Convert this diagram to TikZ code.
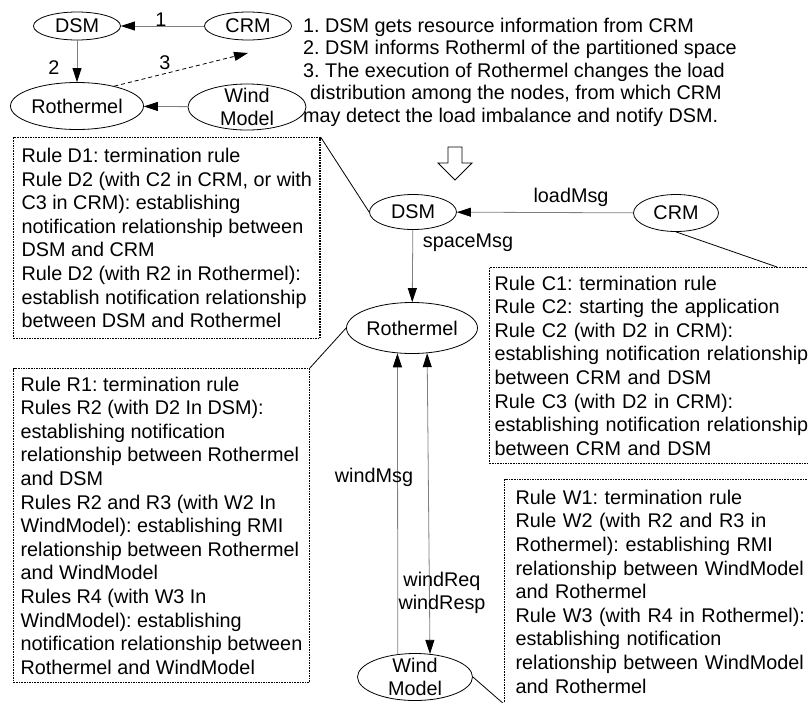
\documentclass[tikz,border=0pt]{standalone}
\usepackage{fontspec}
\setmainfont{Liberation Sans}
\usepackage{tikz}
\usetikzlibrary{shapes.geometric,arrows.meta}
\frenchspacing

\begin{document}
\begin{tikzpicture}[x=1pt,y=-1pt,font=\fontsize{19.8}{23.6}\selectfont]
        \useasboundingbox (0,0) rectangle (808,702);
        \tikzset{ModuleStyle/.style={draw, ellipse, inner sep=0pt, line width=0.8pt},
        WindStyle/.style={ModuleStyle, align=center, inner ysep=-3pt},
        MsgStyle/.style={draw=gray, line width=0.8pt, -{Triangle[length=14pt,width=9pt,color=black]}},
        BothStyle/.style={MsgStyle, {Triangle[length=14pt,width=9pt,color=black]}-{Triangle[length=14pt,width=9pt,color=black]}},
        RuleStyle/.style={draw, dash pattern=on 1.6pt off 1pt, line width=1.1pt, anchor=north west, align=left, inner ysep=0pt}}
        \node[ModuleStyle, minimum width=87, minimum height=28] (DSM1) at (77,26) {DSM};
        \node[ModuleStyle, minimum width=87, minimum height=28] (CRM1) at (248,26) {CRM};
        \node[ModuleStyle, minimum width=133, minimum height=47] (Roth1) at (77,106) {Rothermel};
        \node[WindStyle, minimum width=118, minimum height=46] (Wind1) at (247,107) {Wind\\Model};
        \coordinate (tip3) at (248,53);
        \draw[MsgStyle] (CRM1) -- (DSM1);
        \draw[MsgStyle] (DSM1) -- (Roth1);
        \draw[MsgStyle] (Wind1) -- (Roth1);
        \draw[MsgStyle, draw=black, dash pattern=on 4pt off 3pt] (Roth1.28) -- (tip3);
        \node (num1) at (161,20) {1};
        \node (num2) at (54,68) {2};
        \node (num3) at (165,63) {3};
        \node[anchor=north west, align=left, inner sep=0pt, font=\fontsize{19.8}{22.6}\selectfont] (steps) at (303,17.6)
        {1. DSM gets resource information from CRM\\
        2. DSM informs Rotherml of the partitioned space\\
        3. The execution of Rothermel changes the load\\
        \hspace*{7pt}distribution among the nodes, from which CRM\\
        may detect the load imbalance and notify DSM.};
        \draw[fill=white, line width=0.8pt] (448,147) -- (462,147) -- (462,163) -- (472,163)
        -- (455,180) -- (438,163) -- (448,163) -- cycle;
        \node[ModuleStyle, minimum width=87, minimum height=35] (DSM) at (413,212) {DSM};
        \node[ModuleStyle, minimum width=85, minimum height=37] (CRM) at (676,213) {CRM};
        \node[ModuleStyle, minimum width=131, minimum height=51] (Roth) at (412,328) {Rothermel};
        \node[WindStyle, minimum width=115, minimum height=47] (Wind) at (415,677) {Wind\\Model};
        \draw[MsgStyle] (CRM) -- (DSM);
        \draw[MsgStyle] (DSM) -- (Roth);
        \draw[MsgStyle] (Wind.127) -- (Roth.240);
        \draw[BothStyle] (Wind.57) -- (Roth.301);
        \node (loadLbl) at (571,197) {loadMsg};
        \node (spaceLbl) at (468,243) {spaceMsg};
        \node (windLbl) at (374,477) {windMsg};
        \node[align=center] (reqLbl) at (442,593) {windReq\\windResp};
        \node[RuleStyle, inner xsep=8pt, minimum height=201] (DRules) at (13,137)
        {Rule D1: termination rule\\
        Rule D2 (with C2 in CRM, or with\\
        C3 in CRM): establishing\\
        notification relationship between\\
        DSM and CRM\\
        Rule D2 (with R2 in Rothermel):\\
        establish notification relationship\\
        between DSM and Rothermel};
        \node[RuleStyle, inner xsep=7pt, minimum height=314] (RRules) at (13,368)
        {Rule R1: termination rule\\
        Rules R2 (with D2 In DSM):\\
        establishing notification\\
        relationship between Rothermel\\
        and DSM\\
        Rules R2 and R3 (with W2 In\\
        WindModel): establishing RMI\\
        relationship between Rothermel\\
        and WindModel\\
        Rules R4 (with W3 In\\
        WindModel): establishing\\
        notification relationship between\\
        Rothermel and WindModel};
        \node[RuleStyle, inner xsep=5pt, text width=330, minimum height=196] (CRules) at (489,267)
        {Rule C1: termination rule\\
        Rule C2: starting the application\\
        Rule C2 (with D2 in CRM):\\
        establishing notification relationship\\
        between CRM and DSM\\
        Rule C3 (with D2 in CRM):\\
        establishing notification relationship\\
        between CRM and DSM};
        \node[RuleStyle, inner xsep=11pt, text width=320, minimum height=224] (WRules) at (504,479)
        {Rule W1: termination rule\\
        Rule W2 (with R2 and R3 in\\
        Rothermel): establishing RMI\\
        relationship between WindModel\\
        and Rothermel\\
        Rule W3 (with R4 in Rothermel):\\
        establishing notification\\
        relationship between WindModel\\
        and Rothermel};
        \draw[line width=0.8pt] (DRules.north east) -- (DSM.west);
        \draw[line width=0.8pt] (RRules.north east) -- (Roth.west);
        \draw[line width=0.8pt] (CRM.south) -- (CRules.40);
        \draw[line width=0.8pt] (Wind.east) -- (WRules.south west);
    \end{tikzpicture}
\end{document}
